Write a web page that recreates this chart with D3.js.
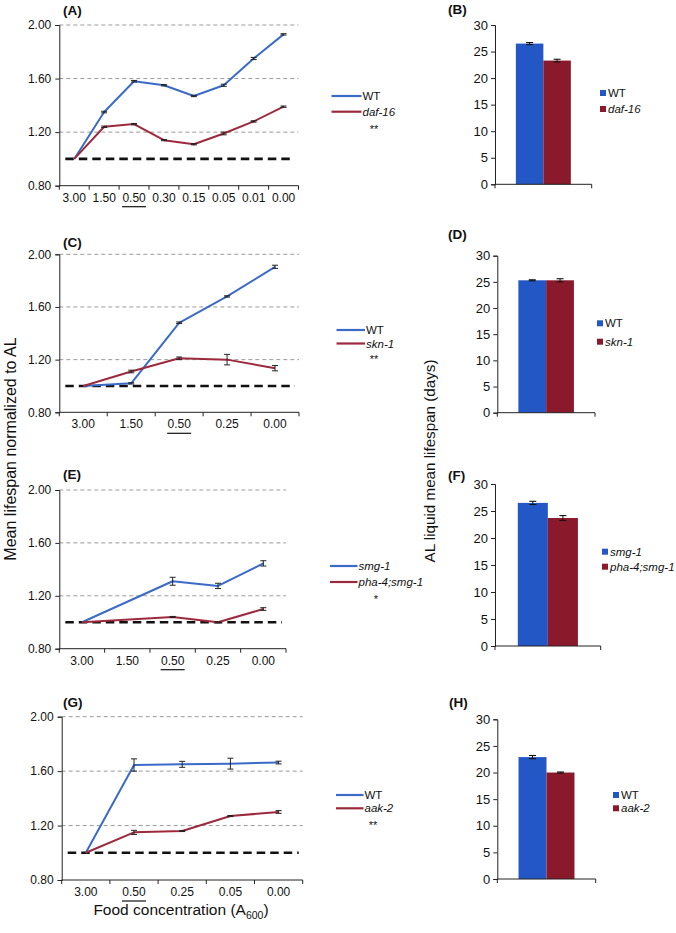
<!DOCTYPE html>
<html><head><meta charset="utf-8">
<script src="https://cdn.jsdelivr.net/npm/d3@7/dist/d3.min.js"></script>
<style>
html,body{margin:0;padding:0;background:#fff;}
svg{display:block;font-family:"Liberation Sans",Arial,Helvetica,sans-serif;}
</style></head>
<body>
<svg id="chart" width="676" height="933"></svg>
<script>
// ---------- DATA ----------
const lineYTicks = [0.80, 1.20, 1.60, 2.00];
const barYTicks = [0, 5, 10, 15, 20, 25, 30];
const underlinedCat = "0.50";

// Panel A
const catsA = ["3.00","1.50","0.50","0.30","0.15","0.05","0.01","0.00"];
const wtA = [1.00, 1.35, 1.58, 1.55, 1.47, 1.55, 1.75, 1.93];
const wtErrA = [0, 0.006, 0.006, 0.005, 0.005, 0.008, 0.008, 0.005];
const daf16A = [1.00, 1.24, 1.26, 1.14, 1.11, 1.19, 1.28, 1.39];
const daf16ErrA = [0, 0.005, 0.005, 0.004, 0.005, 0.01, 0.005, 0.005];
// Panel B
const namesB = ["WT", "daf-16"];
const valsB = [26.5, 23.3];
const errsB = [0.2, 0.25];
// Panel C
const catsC = ["3.00","1.50","0.50","0.25","0.00"];
const wtC = [1.00, 1.02, 1.48, 1.68, 1.905];
const wtErrC = [0, 0.005, 0.006, 0.005, 0.012];
const skn1C = [1.00, 1.11, 1.21, 1.20, 1.135];
const skn1ErrC = [0, 0.01, 0.01, 0.04, 0.02];
// Panel D
const namesD = ["WT", "skn-1"];
const valsD = [25.3, 25.3];
const errsD = [0.1, 0.3];
// Panel E
const catsE = ["3.00","1.50","0.50","0.25","0.00"];
const smg1E = [1.00, null, 1.31, 1.275, 1.445];
const smg1ErrE = [0, 0, 0.03, 0.02, 0.02];
const pha4E = [1.00, null, 1.04, 1.00, 1.10];
const pha4ErrE = [0, 0, 0.004, 0.004, 0.01];
// Panel F
const namesF = ["smg-1", "pha-4;smg-1"];
const valsF = [26.5, 23.7];
const errsF = [0.3, 0.45];
// Panel G
const catsG = ["3.00","0.50","0.25","0.05","0.00"];
const wtG = [1.00, 1.645, 1.65, 1.655, 1.663];
const wtErrG = [0, 0.045, 0.022, 0.04, 0.01];
const aak2G = [1.00, 1.15, 1.16, 1.27, 1.30];
const aak2ErrG = [0, 0.015, 0.004, 0.004, 0.01];
// Panel H
const namesH = ["WT", "aak-2"];
const valsH = [22.9, 20.0];
const errsH = [0.3, 0.1];

// ---------- STYLE ----------
const lineBlue = "#3a6bc8", lineRed = "#9c2a3c";
const barBlue = "#2457c6", barRed = "#8a1a2b";
const axisCol = "#222";

const svg = d3.select("#chart");
const defs = svg.append("defs");
defs.append("filter").attr("id","blur").attr("x","-5%").attr("y","-200%").attr("width","110%").attr("height","500%")
  .append("feGaussianBlur").attr("stdDeviation", 1.3);

function panelLabel(txt, x, y) {
  svg.append("text").attr("x", x).attr("y", y).attr("dy","0.35em")
    .attr("font-size", 13.5).attr("font-weight","bold").attr("fill","#111").text(txt);
}

function linePanel(cfg) {
  const g = svg.append("g");
  const x = d3.scaleBand().domain(cfg.cats).range([cfg.left, cfg.right]);
  const y = d3.scaleLinear().domain([0.8, 2.0]).range([cfg.bottom, cfg.top]);
  // grid
  g.selectAll(".grid").data(lineYTicks.slice(1)).join("line")
    .attr("x1", cfg.left).attr("x2", cfg.right)
    .attr("y1", d => y(d)).attr("y2", d => y(d))
    .attr("stroke", "#9a9a9a").attr("stroke-width", 1).attr("stroke-dasharray", "4,3");
  // y axis
  const ya = g.append("g").attr("transform", `translate(${cfg.left},0)`)
    .call(d3.axisLeft(y).tickValues(lineYTicks).tickFormat(d3.format(".2f")).tickSize(4).tickPadding(4));
  ya.select(".domain").attr("stroke", axisCol);
  ya.selectAll(".tick line").attr("stroke", axisCol);
  ya.selectAll("text").attr("font-size", 12).attr("fill","#111").attr("font-family","inherit");
  // x axis
  const xa = g.append("g").attr("transform", `translate(0,${cfg.bottom})`)
    .call(d3.axisBottom(x).tickSize(0).tickPadding(7.5));
  xa.select(".domain").attr("stroke", axisCol).attr("d", `M${cfg.left},0H${cfg.right}`);
  xa.selectAll("text").attr("font-size", 12).attr("fill","#111").attr("font-family","inherit");
  const edges = cfg.cats.map(c => x(c)).concat([cfg.right]);
  g.selectAll(".xt").data(edges).join("line")
    .attr("x1", d => d).attr("x2", d => d)
    .attr("y1", cfg.bottom).attr("y2", cfg.bottom + 4).attr("stroke", axisCol);
  // underline
  if (cfg.cats.includes(underlinedCat)) {
    const cx = x(underlinedCat) + x.bandwidth() / 2;
    g.append("line").attr("x1", cx - 12).attr("x2", cx + 12)
      .attr("y1", cfg.bottom + 21).attr("y2", cfg.bottom + 21)
      .attr("stroke", "#111").attr("stroke-width", 1.2);
  }
  // baseline at 1.00 (black dashed with shadow)
  const yb = y(1.0);
  g.append("line").attr("x1", cfg.left + 6).attr("x2", cfg.right - 4)
    .attr("y1", yb + 2).attr("y2", yb + 2)
    .attr("stroke", "#999").attr("stroke-width", 4).attr("stroke-opacity", 0.55)
    .attr("filter", "url(#blur)");
  g.append("line").attr("x1", cfg.left + 6).attr("x2", cfg.right - 4)
    .attr("y1", yb).attr("y2", yb)
    .attr("stroke", "#111").attr("stroke-width", 2.6).attr("stroke-dasharray", "8.5,5");
  // series
  cfg.series.forEach(s => {
    const pts = cfg.cats.map((c, i) => ({c, v: s.vals[i], e: s.errs[i]})).filter(p => p.v != null);
    const line = d3.line().x(p => x(p.c) + x.bandwidth() / 2).y(p => y(p.v));
    g.append("path").datum(pts).attr("d", line).attr("fill","none")
      .attr("stroke", s.color).attr("stroke-width", 2).attr("stroke-linejoin","round");
    const eb = g.append("g");
    pts.filter(p => p.e > 0).forEach(p => {
      const cx = x(p.c) + x.bandwidth() / 2;
      const y1 = y(p.v + p.e), y2 = y(p.v - p.e);
      eb.append("line").attr("x1", cx).attr("x2", cx).attr("y1", y1).attr("y2", y2).attr("stroke","#222").attr("stroke-width",1);
      [y1, y2].forEach(yy => eb.append("line").attr("x1", cx - 3).attr("x2", cx + 3).attr("y1", yy).attr("y2", yy).attr("stroke","#222").attr("stroke-width",1));
    });
  });
  // legend
  cfg.series.forEach((s, i) => {
    const ly = cfg.legY[i];
    g.append("line").attr("x1", cfg.legX1).attr("x2", cfg.legX2).attr("y1", ly).attr("y2", ly)
      .attr("stroke", s.color).attr("stroke-width", 2.2);
    g.append("text").attr("x", cfg.legX2 + 1).attr("y", ly).attr("dy","0.35em")
      .attr("font-size", 11.5).attr("fill","#111")
      .attr("font-style", s.name === "WT" ? "normal" : "italic").text(s.name);
  });
  g.append("text").attr("x", cfg.starX).attr("y", cfg.starY).attr("dy","0.55em")
    .attr("text-anchor","middle").attr("font-size", 11).attr("fill","#111").text(cfg.stars);
}

function barPanel(cfg) {
  const g = svg.append("g");
  const y = d3.scaleLinear().domain([0, 30]).range([cfg.bottom, cfg.top]);
  const x0 = d3.scaleBand().domain(["AL"]).range([cfg.left, cfg.right]).padding(0.275);
  const x1 = d3.scaleBand().domain(cfg.names).range([0, x0.bandwidth()]);
  const colors = [barBlue, barRed];
  const ya = g.append("g").attr("transform", `translate(${cfg.left},0)`)
    .call(d3.axisLeft(y).tickValues(barYTicks).tickSize(4).tickPadding(3));
  ya.select(".domain").attr("stroke", axisCol);
  ya.selectAll(".tick line").attr("stroke", axisCol);
  ya.selectAll("text").attr("font-size", 13).attr("fill","#111").attr("font-family","inherit");
  g.selectAll("rect").data(cfg.names).join("rect")
    .attr("x", d => x0("AL") + x1(d)).attr("width", x1.bandwidth())
    .attr("y", (d, i) => y(cfg.vals[i])).attr("height", (d, i) => cfg.bottom - y(cfg.vals[i]))
    .attr("fill", (d, i) => colors[i]);
  cfg.names.forEach((n, i) => {
    const cx = x0("AL") + x1(n) + x1.bandwidth() / 2;
    const y1 = y(cfg.vals[i] + cfg.errs[i]), y2 = y(cfg.vals[i] - cfg.errs[i]);
    g.append("line").attr("x1", cx).attr("x2", cx).attr("y1", y1).attr("y2", y2).attr("stroke","#111").attr("stroke-width",1);
    [y1, y2].forEach(yy => g.append("line").attr("x1", cx - 3.5).attr("x2", cx + 3.5).attr("y1", yy).attr("y2", yy).attr("stroke","#111").attr("stroke-width",1.1));
  });
  // x axis
  g.append("line").attr("x1", cfg.left).attr("x2", cfg.right).attr("y1", cfg.bottom).attr("y2", cfg.bottom).attr("stroke", axisCol);
  [cfg.left, cfg.right].forEach(xx => g.append("line").attr("x1", xx).attr("x2", xx).attr("y1", cfg.bottom).attr("y2", cfg.bottom + 4).attr("stroke", axisCol));
  // legend
  cfg.names.forEach((n, i) => {
    const ly = cfg.legY[i];
    g.append("rect").attr("x", cfg.legX).attr("y", ly - 3).attr("width", 6).attr("height", 6).attr("fill", colors[i]);
    g.append("text").attr("x", cfg.legX + 8).attr("y", ly).attr("dy","0.35em")
      .attr("font-size", 11.5).attr("fill","#111")
      .attr("font-style", n === "WT" ? "normal" : "italic").text(n);
  });
}

// ---------- PANELS ----------
linePanel({cats: catsA, left: 59.3, right: 298.5, top: 25, bottom: 185.7,
  series: [{name:"WT", vals: wtA, errs: wtErrA, color: lineBlue}, {name:"daf-16", vals: daf16A, errs: daf16ErrA, color: lineRed}],
  legX1: 331.5, legX2: 361.5, legY: [96, 111.7], starX: 374, starY: 127, stars: "**"});
linePanel({cats: catsC, left: 59.3, right: 299, top: 254.3, bottom: 412.3,
  series: [{name:"WT", vals: wtC, errs: wtErrC, color: lineBlue}, {name:"skn-1", vals: skn1C, errs: skn1ErrC, color: lineRed}],
  legX1: 336.5, legX2: 365, legY: [330, 343.5], starX: 374, starY: 357, stars: "**"});
linePanel({cats: catsE, left: 59.3, right: 286, top: 490, bottom: 648.7,
  series: [{name:"smg-1", vals: smg1E, errs: smg1ErrE, color: lineBlue}, {name:"pha-4;smg-1", vals: pha4E, errs: pha4ErrE, color: lineRed}],
  legX1: 330, legX2: 357.5, legY: [566, 582], starX: 376, starY: 597, stars: "*"});
linePanel({cats: catsG, left: 61.7, right: 302.7, top: 716.7, bottom: 880,
  series: [{name:"WT", vals: wtG, errs: wtErrG, color: lineBlue}, {name:"aak-2", vals: aak2G, errs: aak2ErrG, color: lineRed}],
  legX1: 336, legX2: 363.5, legY: [795, 808.3], starX: 373, starY: 823, stars: "**"});

barPanel({names: namesB, vals: valsB, errs: errsB, left: 495, right: 591.7, top: 25, bottom: 184.3, legX: 600, legY: [93, 109]});
barPanel({names: namesD, vals: valsD, errs: errsD, left: 497.3, right: 595, top: 255.7, bottom: 412.7, legX: 597, legY: [323.3, 341.7]});
barPanel({names: namesF, vals: valsF, errs: errsF, left: 495, right: 600.7, top: 484, bottom: 646, legX: 602, legY: [551.7, 566.7]});
barPanel({names: namesH, vals: valsH, errs: errsH, left: 497.3, right: 595.7, top: 719.3, bottom: 879, legX: 613, legY: [795, 808.3]});

panelLabel("(A)", 63, 10);
panelLabel("(B)", 448, 9);
panelLabel("(C)", 63, 242.7);
panelLabel("(D)", 448, 234);
panelLabel("(E)", 63, 474);
panelLabel("(F)", 448, 475);
panelLabel("(G)", 63, 702.7);
panelLabel("(H)", 449, 702.7);

// axis titles
svg.append("text").attr("transform", "translate(10,449) rotate(-90)")
  .attr("text-anchor","middle").attr("dy","0.35em").attr("font-size", 16).attr("fill","#111")
  .text("Mean lifespan normalized to AL");
svg.append("text").attr("transform", "translate(430,461) rotate(-90)")
  .attr("text-anchor","middle").attr("dy","0.35em").attr("font-size", 15.2).attr("fill","#111")
  .text("AL liquid mean lifespan (days)");
const ft = svg.append("text").attr("x", 181).attr("y", 915).attr("text-anchor","middle")
  .attr("font-size", 15.5).attr("fill","#111");
ft.append("tspan").text("Food concentration (A");
ft.append("tspan").attr("font-size", 10.5).attr("dy", 4).text("600");
ft.append("tspan").attr("dy", -4).text(")");
</script>
</body></html>
